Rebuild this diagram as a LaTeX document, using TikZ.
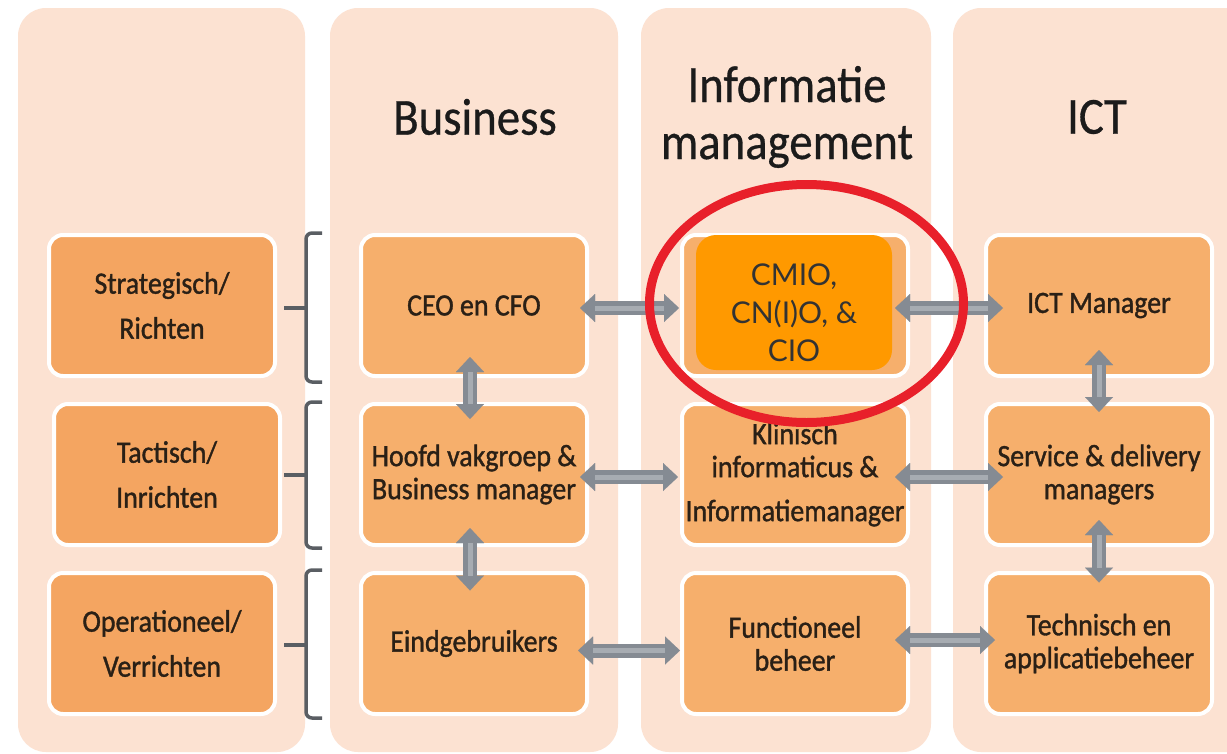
\documentclass[tikz,border=0pt]{standalone}
\usepackage{fontspec}
\setmainfont{Carlito}
\newfontfamily\calf[FakeStretch=0.9,FakeBold=1.2]{Carlito}
\newfontfamily\calh[FakeStretch=0.9,FakeBold=0.6]{Carlito}
\newfontfamily\latof{Lato}
\usetikzlibrary{arrows.meta}
\definecolor{panel}{HTML}{FCE2D2}
\definecolor{boxfill}{HTML}{F6AF6C}
\definecolor{boxfillA}{HTML}{F4A561}
\definecolor{cmiofill}{HTML}{FF9900}
\definecolor{arrowgray}{HTML}{858B93}
\definecolor{arrowlight}{HTML}{A7ACB2}
\definecolor{bracegray}{HTML}{5A5E63}
\definecolor{ringred}{HTML}{E8202A}
\definecolor{txt}{HTML}{2A2016}
\definecolor{headtxt}{HTML}{1B1B1B}
\definecolor{cmiotxt}{HTML}{333333}
\newcommand\dblarr[2]{\draw[dblarrow] #1 -- #2; \draw[arrowhl] #1 -- #2;}
\begin{document}
\begin{tikzpicture}[x=1pt,y=-1pt,
  panelbox/.style={fill=panel, rounded corners=28pt},
  rolebox/.style={draw=white, line width=4pt, fill=boxfill, rounded corners=14pt,
    minimum width=226pt, minimum height=141pt, align=center, text=txt,
    font=\calf\fontsize{31}{33}\selectfont, inner sep=0pt, outer sep=0pt},
  levelbox/.style={rolebox, fill=boxfillA},
  headtext/.style={align=center, text=headtxt, font=\calh\fontsize{52}{57}\selectfont},
  cmiobox/.style={fill=cmiofill, rounded corners=20pt, minimum width=196pt,
    minimum height=135pt, inner sep=0pt, outer sep=0pt},
  cmiotext/.style={align=center, text=cmiotxt, font=\latof\fontsize{30}{38}\selectfont},
  dblarrow/.style={draw=arrowgray, line width=14pt,
    {Triangle[width=28pt,length=15pt,line width=0.01pt]}-{Triangle[width=28pt,length=15pt,line width=0.01pt]}},
  arrowhl/.style={draw=arrowlight, line width=5pt, shorten <=15pt, shorten >=15pt},
  bracket/.style={draw=bracegray, line width=3.5pt, rounded corners=6pt},
  ring/.style={draw=ringred, line width=9pt}
]
\useasboundingbox (0,0) rectangle (1227,753);
\fill[white] (0,0) rectangle (1227,753);
% column panels
\fill[panelbox] (18,8) rectangle (305,752);
\fill[panelbox] (330,8) rectangle (618,752);
\fill[panelbox] (641,8) rectangle (931,752);
\fill[panelbox] (953,8) rectangle (1260,752);
% headers
\node[headtext] (hbus) at (475,117) {Business};
\node[headtext] (him) at (787,117) {Informatie\\management};
\node[headtext] (hict) at (1097,117) {ICT};
% level boxes
\node[levelbox] (strat) at (162,305.5) {Strategisch/\\[12pt]Richten};
\node[levelbox] (tact) at (167,474.5) {Tactisch/\\[12pt]Inrichten};
\node[levelbox] (oper) at (162,643.5) {Operationeel/\\[12pt]Verrichten};
% business
\node[rolebox] (ceo) at (474,305.5) {CEO en CFO};
\node[rolebox] (hoofd) at (474,474.5) {Hoofd vakgroep \&\\Business manager};
\node[rolebox] (eind) at (474,643.5) {Eindgebruikers};
% informatiemanagement
\node[rolebox] (imback) at (795,305.5) {};
\node[rolebox] (klin) at (795,474.5) {Klinisch\\informaticus \&\\[11pt]Informatiemanager};
\node[rolebox] (func) at (795,643.5) {Functioneel\\beheer};
% ICT
\node[rolebox] (ict) at (1099,305.5) {ICT Manager};
\node[rolebox] (serv) at (1099,474.5) {Service \& delivery\\managers};
\node[rolebox] (tech) at (1099,643.5) {Technisch en\\applicatiebeheer};
% CMIO
\node[cmiobox] (cmio) at (794,302.5) {};
\node[cmiotext] (cmiolbl) at (794,312.5) {CMIO,\\CN(I)O, \&\\CIO};
% brackets
\draw[bracket] (322,233) -- (306,233) -- (306,382) -- (322,382);
\draw[bracket] (284,308) -- (306,308);
\draw[bracket] (322,402) -- (306,402) -- (306,548) -- (322,548);
\draw[bracket] (284,475) -- (306,475);
\draw[bracket] (322,570) -- (306,570) -- (306,718) -- (322,718);
\draw[bracket] (284,645) -- (306,645);
% arrows
\dblarr{([xshift=-7pt,yshift=-2.5pt]ceo.east)}{([xshift=-3pt,yshift=-2.5pt]imback.west)}
\dblarr{([xshift=-13pt,yshift=-2.5pt]imback.east)}{([xshift=17pt,yshift=-2.5pt]ict.west)}
\dblarr{([xshift=-7pt,yshift=-2.5pt]hoofd.east)}{([xshift=-4pt,yshift=-2.5pt]klin.west)}
\dblarr{([xshift=-13pt,yshift=-2.5pt]klin.east)}{([xshift=17pt,yshift=-2.5pt]serv.west)}
\dblarr{([xshift=-9pt,yshift=-7pt]eind.east)}{([xshift=-2pt,yshift=-7pt]func.west)}
\dblarr{([xshift=-13pt,yshift=3.5pt]func.east)}{([xshift=9pt,yshift=3.5pt]tech.west)}
\dblarr{([xshift=-4pt,yshift=19pt]ceo.south)}{([xshift=-4pt,yshift=-15pt]hoofd.north)}
\dblarr{([xshift=-4pt,yshift=17pt]hoofd.south)}{([xshift=-4pt,yshift=-17.5pt]eind.north)}
\dblarr{([yshift=26pt]ict.south)}{([yshift=-8pt]serv.north)}
\dblarr{([yshift=25pt]serv.south)}{([yshift=-9.5pt]tech.north)}
% red ring
\draw[ring] (806.5,303.5) ellipse [x radius=157pt, y radius=119pt];
\end{tikzpicture}
\end{document}
